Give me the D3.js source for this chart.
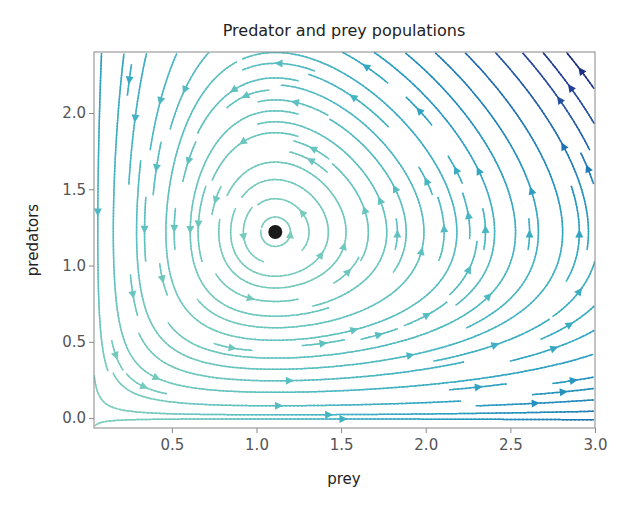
<!DOCTYPE html>
<html><head><meta charset="utf-8">
<script src="https://cdn.jsdelivr.net/npm/d3@7"></script>
<style>body{margin:0;background:#fff;font-family:"DejaVu Sans",sans-serif}</style>
</head><body><svg id="c" width="630" height="510"></svg>
<script>
// Lotka-Volterra parameters (equilibrium ~ (1.11, 1.22))
var alpha = 1.0, beta = 0.82, gamma = 1.0, delta = 0.9;
var xDomain = [0.04, 3.0], yDomain = [-0.065, 2.4];
var xTicks = [0.5, 1.0, 1.5, 2.0, 2.5, 3.0];
var yTicks = [0.0, 0.5, 1.0, 1.5, 2.0];
var equilibrium = [gamma / delta, alpha / beta];

var svg = d3.select('#c');
var m = {l: 94, r: 595, t: 52, b: 428};
var x = d3.scaleLinear().domain(xDomain).range([m.l, m.r]);
var y = d3.scaleLinear().domain(yDomain).range([m.b, m.t]);

function field(px, py) {
  return [px * (alpha - beta * py), py * (-gamma + delta * px)];
}

// simplified streamplot, mask grid
var N = 34, maskN = N;
var mask = [];
for (var i = 0; i < maskN * maskN; i++) mask.push(0);
var W = xDomain[1] - xDomain[0], H = yDomain[1] - yDomain[0];

function vel(fx, fy) {
  var v = field(xDomain[0] + fx * W, yDomain[0] + fy * H);
  var u = v[0] / W, w = v[1] / H;
  var s = Math.sqrt(u * u + w * w);
  return s === 0 ? null : [u / s, w / s];
}
function cell(fx, fy) {
  return [Math.min(maskN - 1, Math.floor(fx * maskN)), Math.min(maskN - 1, Math.floor(fy * maskN))];
}

function integrate(fx, fy, dir, marked) {
  var pts = [], len = 0, ds = 0.004, cur = cell(fx, fy);
  while (len < 2) {
    var v1 = vel(fx, fy); if (!v1) break;
    var mx = fx + dir * v1[0] * ds / 2, my = fy + dir * v1[1] * ds / 2;
    if (mx < 0 || mx > 1 || my < 0 || my > 1) break;
    var v2 = vel(mx, my); if (!v2) break;
    var nx = fx + dir * v2[0] * ds, ny = fy + dir * v2[1] * ds;
    if (nx < 0 || nx > 1 || ny < 0 || ny > 1) break;
    var c = cell(nx, ny);
    if (c[0] !== cur[0] || c[1] !== cur[1]) {
      if (mask[c[1] * maskN + c[0]]) break;
      mask[c[1] * maskN + c[0]] = 1; marked.push(c); cur = c;
    }
    fx = nx; fy = ny; len += ds;
    pts.push([fx, fy]);
  }
  return {pts: pts, len: len};
}

var lines = [];
var seeds = [];
var lo = 0, hi = N - 1;
while (lo <= hi) {
  for (var a = lo; a <= hi; a++) seeds.push([a, lo]);
  for (var a = lo + 1; a <= hi; a++) seeds.push([hi, a]);
  for (var a = hi - 1; a >= lo; a--) seeds.push([a, hi]);
  for (var a = hi - 1; a > lo; a--) seeds.push([lo, a]);
  lo++; hi--;
}
seeds.forEach(function(s) {
  if (mask[s[1] * maskN + s[0]]) return;
  var fx = (s[0] + 0.5) / N, fy = (s[1] + 0.5) / N;
  var marked = [s.slice()];
  mask[s[1] * maskN + s[0]] = 1;
  var b = integrate(fx, fy, -1, marked);
  var f = integrate(fx, fy, 1, marked);
  if (b.len + f.len < 0.08) {
    marked.forEach(function(c) { mask[c[1] * maskN + c[0]] = 0; });
    return;
  }
  var pts = b.pts.reverse().concat([[fx, fy]]).concat(f.pts);
  lines.push(pts.map(function(p) { return [xDomain[0] + p[0] * W, yDomain[0] + p[1] * H]; }));
});

function speed(p) { var v = field(p[0], p[1]); return Math.sqrt(v[0] * v[0] + v[1] * v[1]); }
var maxS = d3.max(lines, function(l) { return d3.max(l, speed); });
var color = function(s) { return d3.interpolateYlGnBu(0.38 + 0.55 * Math.pow(s / maxS, 1.3)); };

svg.append('defs').append('clipPath').attr('id', 'clip').append('rect')
  .attr('x', m.l).attr('y', m.t).attr('width', m.r - m.l).attr('height', m.b - m.t);
var g = svg.append('g').attr('clip-path', 'url(#clip)');

lines.forEach(function(l) {
  for (var i = 0; i < l.length - 1; i += 2) {
    var j = Math.min(i + 3, l.length - 1);
    g.append('path')
      .attr('d', d3.line().x(function(p) { return x(p[0]); }).y(function(p) { return y(p[1]); })(l.slice(i, j + 1)))
      .attr('fill', 'none').attr('stroke', color(speed(l[i]))).attr('stroke-width', 1.5);
  }
  var k = Math.floor(l.length / 2);
  if (k + 1 >= l.length) return;
  var p0 = l[k], p1 = l[k + 1];
  var ang = Math.atan2(y(p1[1]) - y(p0[1]), x(p1[0]) - x(p0[0])) * 180 / Math.PI;
  g.append('path').attr('d', 'M4,0L-4,-4L-4,4Z')
    .attr('transform', 'translate(' + x(p0[0]) + ',' + y(p0[1]) + ') rotate(' + ang + ')')
    .attr('fill', color(speed(p0)));
});

svg.append('circle').attr('cx', x(equilibrium[0])).attr('cy', y(equilibrium[1])).attr('r', 7).attr('fill', '#1a1a1a');

svg.append('rect').attr('x', m.l).attr('y', m.t).attr('width', m.r - m.l).attr('height', m.b - m.t)
  .attr('fill', 'none').attr('stroke', '#888').attr('stroke-width', 1);

var xa = svg.append('g').attr('transform', 'translate(0,' + m.b + ')')
  .call(d3.axisBottom(x).tickValues(xTicks).tickFormat(d3.format('.1f')).tickSize(5).tickSizeOuter(0));
var ya = svg.append('g').attr('transform', 'translate(' + m.l + ',0)')
  .call(d3.axisLeft(y).tickValues(yTicks).tickFormat(d3.format('.1f')).tickSize(5).tickSizeOuter(0));
[xa, ya].forEach(function(a) {
  a.select('.domain').remove();
  a.selectAll('line').attr('stroke', '#888');
  a.selectAll('text').attr('fill', '#555').style('font-size', '15px').style('font-family', 'DejaVu Sans');
});
xa.selectAll('text').attr('dy', '0.9em');

svg.append('text').attr('x', 344).attr('y', 36).attr('text-anchor', 'middle').style('font-size', '16px').attr('fill', '#222').text('Predator and prey populations');
svg.append('text').attr('x', 344).attr('y', 484).attr('text-anchor', 'middle').style('font-size', '15px').attr('fill', '#222').text('prey');
svg.append('text').attr('transform', 'translate(38,240) rotate(-90)').attr('text-anchor', 'middle').style('font-size', '15px').attr('fill', '#222').text('predators');
</script></body></html>
